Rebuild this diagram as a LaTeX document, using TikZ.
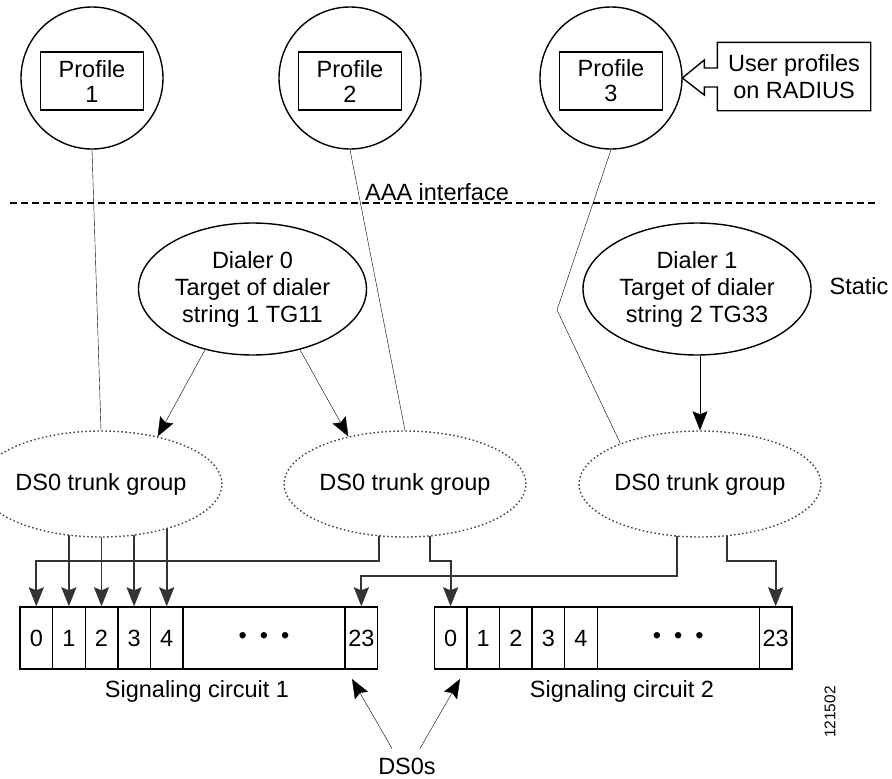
\documentclass[tikz,border=0pt]{standalone}
\usepackage{fontspec}
\setmainfont{Liberation Sans}
\usetikzlibrary{arrows.meta,shapes.geometric,backgrounds}

\begin{document}
\begin{tikzpicture}[x=1pt,y=-1pt,line width=1.4pt,
  >={Stealth[length=19pt,width=15pt,inset=3pt]},
  every node/.style={font=\fontsize{23.5}{27}\selectfont,align=center,inner sep=0pt},
  profile/.style={circle,draw,minimum size=142pt},
  pbox/.style={draw,minimum width=103pt,minimum height=58pt,font=\fontsize{23.5}{25}\selectfont},
  dialer/.style={ellipse,draw,minimum width=228pt,minimum height=132pt},
  trunk/.style={ellipse,draw=black!75,dash pattern=on 1.5pt off 2.5pt,fill=white,
    minimum width=192pt,minimum height=106pt},
  cell/.style={draw,minimum width=32.6pt,minimum height=62pt},
  link/.style={->,draw=black!80,line width=1.8pt}]
  \useasboundingbox (0,0) rectangle (892,779);

  \node[profile] (p1) at (92,78) {};
  \node[profile] (p2) at (350,78) {};
  \node[profile] (p3) at (611,78) {};
  \node[pbox] (pb1) at (92,81) {Profile\\1};
  \node[pbox] (pb2) at (350,81) {Profile\\2};
  \node[pbox] (pb3) at (611,81) {Profile\\3};
  \node[minimum width=152pt,minimum height=67pt] (radius) at (794,76.5) {User profiles\\on RADIUS};
  \draw (radius.north west) -- (radius.north east) -- (radius.south east) -- (radius.south west)
    -- ([yshift=-10.5pt]radius.west) -- ++(-13,0) -- ++(0,8) -- ++(-22,-17) -- ++(22,-18)
    -- ++(0,8) -- ++(13,0) -- cycle;

  \node (aaa) at (437,192) {AAA interface};
  \coordinate (dl) at (10,203);
  \coordinate (dr) at (879,203);
  \draw[dash pattern=on 7pt off 4pt] (dl) -- (dr);

  \node[dialer] (d0) at (252.5,289) {Dialer 0\\Target of dialer\\string 1 TG11};
  \node[dialer] (d1) at (697,289) {Dialer 1\\Target of dialer\\string 2 TG33};
  \node (static) at (859,286) {Static};

  \node[trunk] (tg1) at (101,484) {DS0 trunk group};
  \node[trunk] (tg2) at (405,484) {DS0 trunk group};
  \node[trunk] (tg3) at (700,484) {DS0 trunk group};

  \foreach \s/\x in {1/20,2/434.3} {
    \foreach \i in {0,...,4}
      \node[cell] (c\s-\i) at (\x+16.3+32.6*\i,638) {\i};
    \node[cell,minimum width=162pt] (c\s-dots) at (\x+244,638) {•~~•~~•};
    \node[cell,minimum width=32.7pt] (c\s-23) at (\x+341.35,638) {23};
  }
  \node (sig1) at (197,691) {Signaling circuit 1};
  \node (sig2) at (622,691) {Signaling circuit 2};

  \coordinate (bus1) at (0,561);
  \coordinate (bus2) at (0,576);
  \begin{pgfonlayer}{background}
    \foreach \i in {1,...,4}
      \draw[link] (c1-\i |- tg1.center) -- (c1-\i.north);
    \draw[link] ([xshift=-26pt]tg2.center) |- (c1-0 |- bus1) -- (c1-0.north);
    \draw[link] ([xshift=25pt]tg2.center) |- (c2-0 |- bus1) -- (c2-0.north);
    \draw[link] ([xshift=-23pt]tg3.center) |- (c1-23 |- bus2) -- (c1-23.north);
    \draw[link] ([xshift=27pt]tg3.center) |- (c2-23 |- bus1) -- (c2-23.north);
  \end{pgfonlayer}

  \coordinate (bend) at (557,310);
  \draw (p1.south) -- (tg1.north);
  \draw (p2.south) -- (tg2.north);
  \draw (p3.south) -- (bend) -- (tg3.153);
  \draw[->] (d0.232) -- (tg1.40);
  \draw[->] (d0.308) -- (tg2.140);
  \draw[->] (tg3.north |- d1.south) -- (tg3.north);

  \node[inner sep=9pt] (ds0s) at (407,766) {DS0s};
  \coordinate (t1) at (352,679);
  \coordinate (t2) at (460,679);
  \draw[->] ([xshift=-15pt]ds0s.north) -- (t1);
  \draw[->] ([xshift=13pt]ds0s.north) -- (t2);

  \node[rotate=90,font=\fontsize{15.5}{18}\selectfont] (fig) at (830,712) {121502};
\end{tikzpicture}
\end{document}
